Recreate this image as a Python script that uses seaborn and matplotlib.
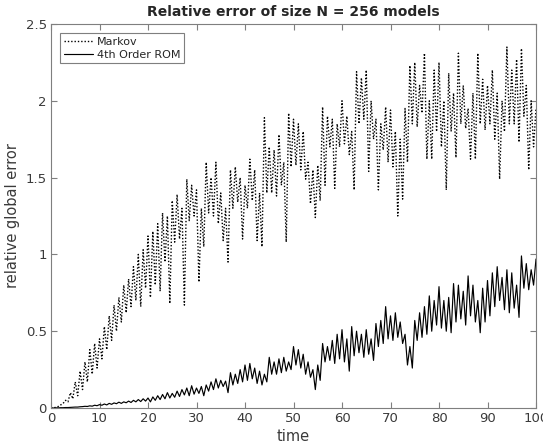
import numpy as np
import pandas as pd
import matplotlib
matplotlib.use("Agg")
import matplotlib.pyplot as plt
import seaborn as sns

# Relative global error, sampled every 0.5 time units.
# *_peak: value at integer times t = 0..100; *_trough: value at t + 0.5 (t = 0..99)
markov_peak = [
    0.00, 0.005, 0.02, 0.05, 0.10, 0.17, 0.24, 0.30, 0.38, 0.42,
    0.45, 0.53, 0.60, 0.67, 0.72, 0.80, 0.84, 0.92, 1.00, 1.03,
    1.12, 1.15, 1.20, 1.27, 1.25, 1.35, 1.39, 1.30, 1.49, 1.45,
    1.42, 1.30, 1.60, 1.50, 1.60, 1.40, 1.30, 1.55, 1.57, 1.50,
    1.45, 1.62, 1.55, 1.40, 1.89, 1.70, 1.68, 1.78, 1.60, 1.92,
    1.88, 1.85, 1.80, 1.60, 1.55, 1.58, 1.96, 1.90, 1.88, 1.85,
    2.00, 1.90, 1.80, 2.19, 2.15, 2.20, 2.00, 1.88, 1.85, 1.96,
    1.94, 1.80, 1.75, 1.95, 2.23, 2.25, 2.10, 2.31, 2.00, 2.20,
    2.25, 2.00, 2.18, 2.05, 2.31, 2.10, 1.95, 2.05, 2.31, 2.14,
    2.10, 2.20, 2.05, 2.00, 2.35, 2.20, 2.27, 2.34, 2.10, 2.00,
    1.95,
]
markov_trough = [
    0.00, 0.01, 0.03, 0.04, 0.06, 0.08, 0.12, 0.17, 0.22, 0.26,
    0.32, 0.38, 0.44, 0.50, 0.56, 0.62, 0.66, 0.70, 0.66, 0.78,
    0.72, 0.80, 0.76, 0.95, 0.68, 1.08, 1.10, 0.67, 1.22, 1.25,
    0.82, 1.05, 1.27, 1.25, 1.20, 1.09, 0.95, 1.30, 1.34, 1.10,
    1.30, 1.35, 1.09, 1.05, 1.40, 1.40, 1.38, 1.45, 1.08, 1.57,
    1.58, 1.55, 1.49, 1.33, 1.24, 1.35, 1.45, 1.70, 1.43, 1.70,
    1.72, 1.65, 1.42, 1.85, 1.88, 1.54, 1.75, 1.42, 1.68, 1.60,
    1.57, 1.25, 1.36, 1.60, 1.85, 1.83, 1.92, 1.62, 1.62, 1.80,
    1.70, 1.42, 1.80, 1.63, 1.85, 1.82, 1.62, 1.62, 1.85, 1.81,
    1.85, 1.75, 1.49, 1.80, 1.85, 1.85, 1.73, 1.90, 1.55, 1.70,
]
rom_peak = [
    0.000, 0.001, 0.002, 0.003, 0.004, 0.006, 0.008, 0.011, 0.014, 0.018,
    0.022, 0.026, 0.030, 0.033, 0.038, 0.040, 0.045, 0.050, 0.055, 0.060,
    0.065, 0.072, 0.080, 0.088, 0.100, 0.095, 0.110, 0.120, 0.130, 0.145,
    0.130, 0.140, 0.150, 0.170, 0.190, 0.180, 0.175, 0.230, 0.220, 0.250,
    0.280, 0.290, 0.260, 0.240, 0.220, 0.330, 0.300, 0.320, 0.330, 0.300,
    0.400, 0.380, 0.350, 0.300, 0.250, 0.280, 0.420, 0.400, 0.440, 0.480,
    0.510, 0.450, 0.530, 0.500, 0.480, 0.510, 0.450, 0.550, 0.570, 0.660,
    0.600, 0.620, 0.560, 0.480, 0.400, 0.570, 0.620, 0.660, 0.730, 0.700,
    0.790, 0.700, 0.720, 0.810, 0.800, 0.760, 0.860, 0.800, 0.700, 0.780,
    0.830, 0.880, 0.920, 0.850, 0.900, 0.880, 0.800, 0.990, 0.940, 0.900,
    0.970,
]
rom_trough = [
    0.000, 0.001, 0.002, 0.003, 0.005, 0.006, 0.009, 0.010, 0.012, 0.015,
    0.018, 0.020, 0.024, 0.028, 0.030, 0.034, 0.036, 0.040, 0.042, 0.045,
    0.040, 0.050, 0.055, 0.060, 0.065, 0.070, 0.075, 0.085, 0.080, 0.090,
    0.095, 0.080, 0.110, 0.120, 0.130, 0.140, 0.100, 0.150, 0.160, 0.170,
    0.180, 0.190, 0.160, 0.150, 0.170, 0.220, 0.220, 0.230, 0.240, 0.250,
    0.280, 0.260, 0.220, 0.200, 0.120, 0.180, 0.300, 0.310, 0.290, 0.320,
    0.300, 0.240, 0.340, 0.360, 0.330, 0.350, 0.310, 0.400, 0.420, 0.450,
    0.440, 0.460, 0.420, 0.280, 0.260, 0.440, 0.460, 0.480, 0.500, 0.540,
    0.520, 0.500, 0.490, 0.560, 0.580, 0.540, 0.600, 0.560, 0.490, 0.560,
    0.600, 0.660, 0.700, 0.640, 0.620, 0.650, 0.590, 0.780, 0.770, 0.800,
]

series_names = ["Markov", "4th Order ROM"]


def interleave(peak, trough):
    vals = []
    for i in range(len(trough)):
        vals.append(peak[i])
        vals.append(trough[i])
    vals.append(peak[-1])
    return vals


time = np.arange(len(markov_trough) * 2 + 1) * 0.5
df = pd.concat([
    pd.DataFrame({"time": time, "err": interleave(markov_peak, markov_trough), "model": series_names[0]}),
    pd.DataFrame({"time": time, "err": interleave(rom_peak, rom_trough), "model": series_names[1]}),
])

sns.set_style("white")
plt.rcParams["font.family"] = ["DejaVu Sans"]

fig = plt.figure(figsize=(5.43, 4.43), dpi=100)
ax = fig.add_axes([51 / 543, 35 / 443, 485 / 543, 384 / 443])

sns.lineplot(data=df, x="time", y="err", hue="model", style="model",
             palette=["black", "black"], dashes={"Markov": (1, 1.4), "4th Order ROM": ""},
             linewidth=1.0, estimator=None, sort=False, ax=ax)
for line in ax.get_lines():
    if line.get_linestyle() == "-":
        line.set_linewidth(0.85)

ax.set_xlim(0, 100)
ax.set_ylim(0, 2.5)
ax.set_xticks(np.arange(0, 101, 10))
ax.set_yticks([0, 0.5, 1, 1.5, 2, 2.5])
ax.set_yticklabels(["0", "0.5", "1", "1.5", "2", "2.5"])

axis_grey = "#7f7f7f"
for s in ax.spines.values():
    s.set_visible(True)
    s.set_color(axis_grey)
    s.set_linewidth(0.8)
ax.tick_params(direction="in", length=4, width=0.8, color=axis_grey,
               labelsize=9.5, labelcolor="#3a3a3a", top=True, right=True,
               bottom=True, left=True, pad=3)

ax.set_xlabel("time", fontsize=10.5, color="#3a3a3a", labelpad=3)
ax.set_ylabel("relative global error", fontsize=10.5, color="#3a3a3a", labelpad=4)
ax.set_title("Relative error of size N = 256 models", fontsize=10, fontweight="bold", pad=6)

handles, labels = ax.get_legend_handles_labels()
leg = ax.legend(handles, labels, loc="upper left", fontsize=8, frameon=True,
                fancybox=False, edgecolor=axis_grey, framealpha=1,
                borderaxespad=0.8, handlelength=2.6, handletextpad=0.4,
                borderpad=0.35, labelspacing=0.25)
leg.get_frame().set_linewidth(0.8)

fig.savefig("out.png", dpi=100, facecolor="white")
